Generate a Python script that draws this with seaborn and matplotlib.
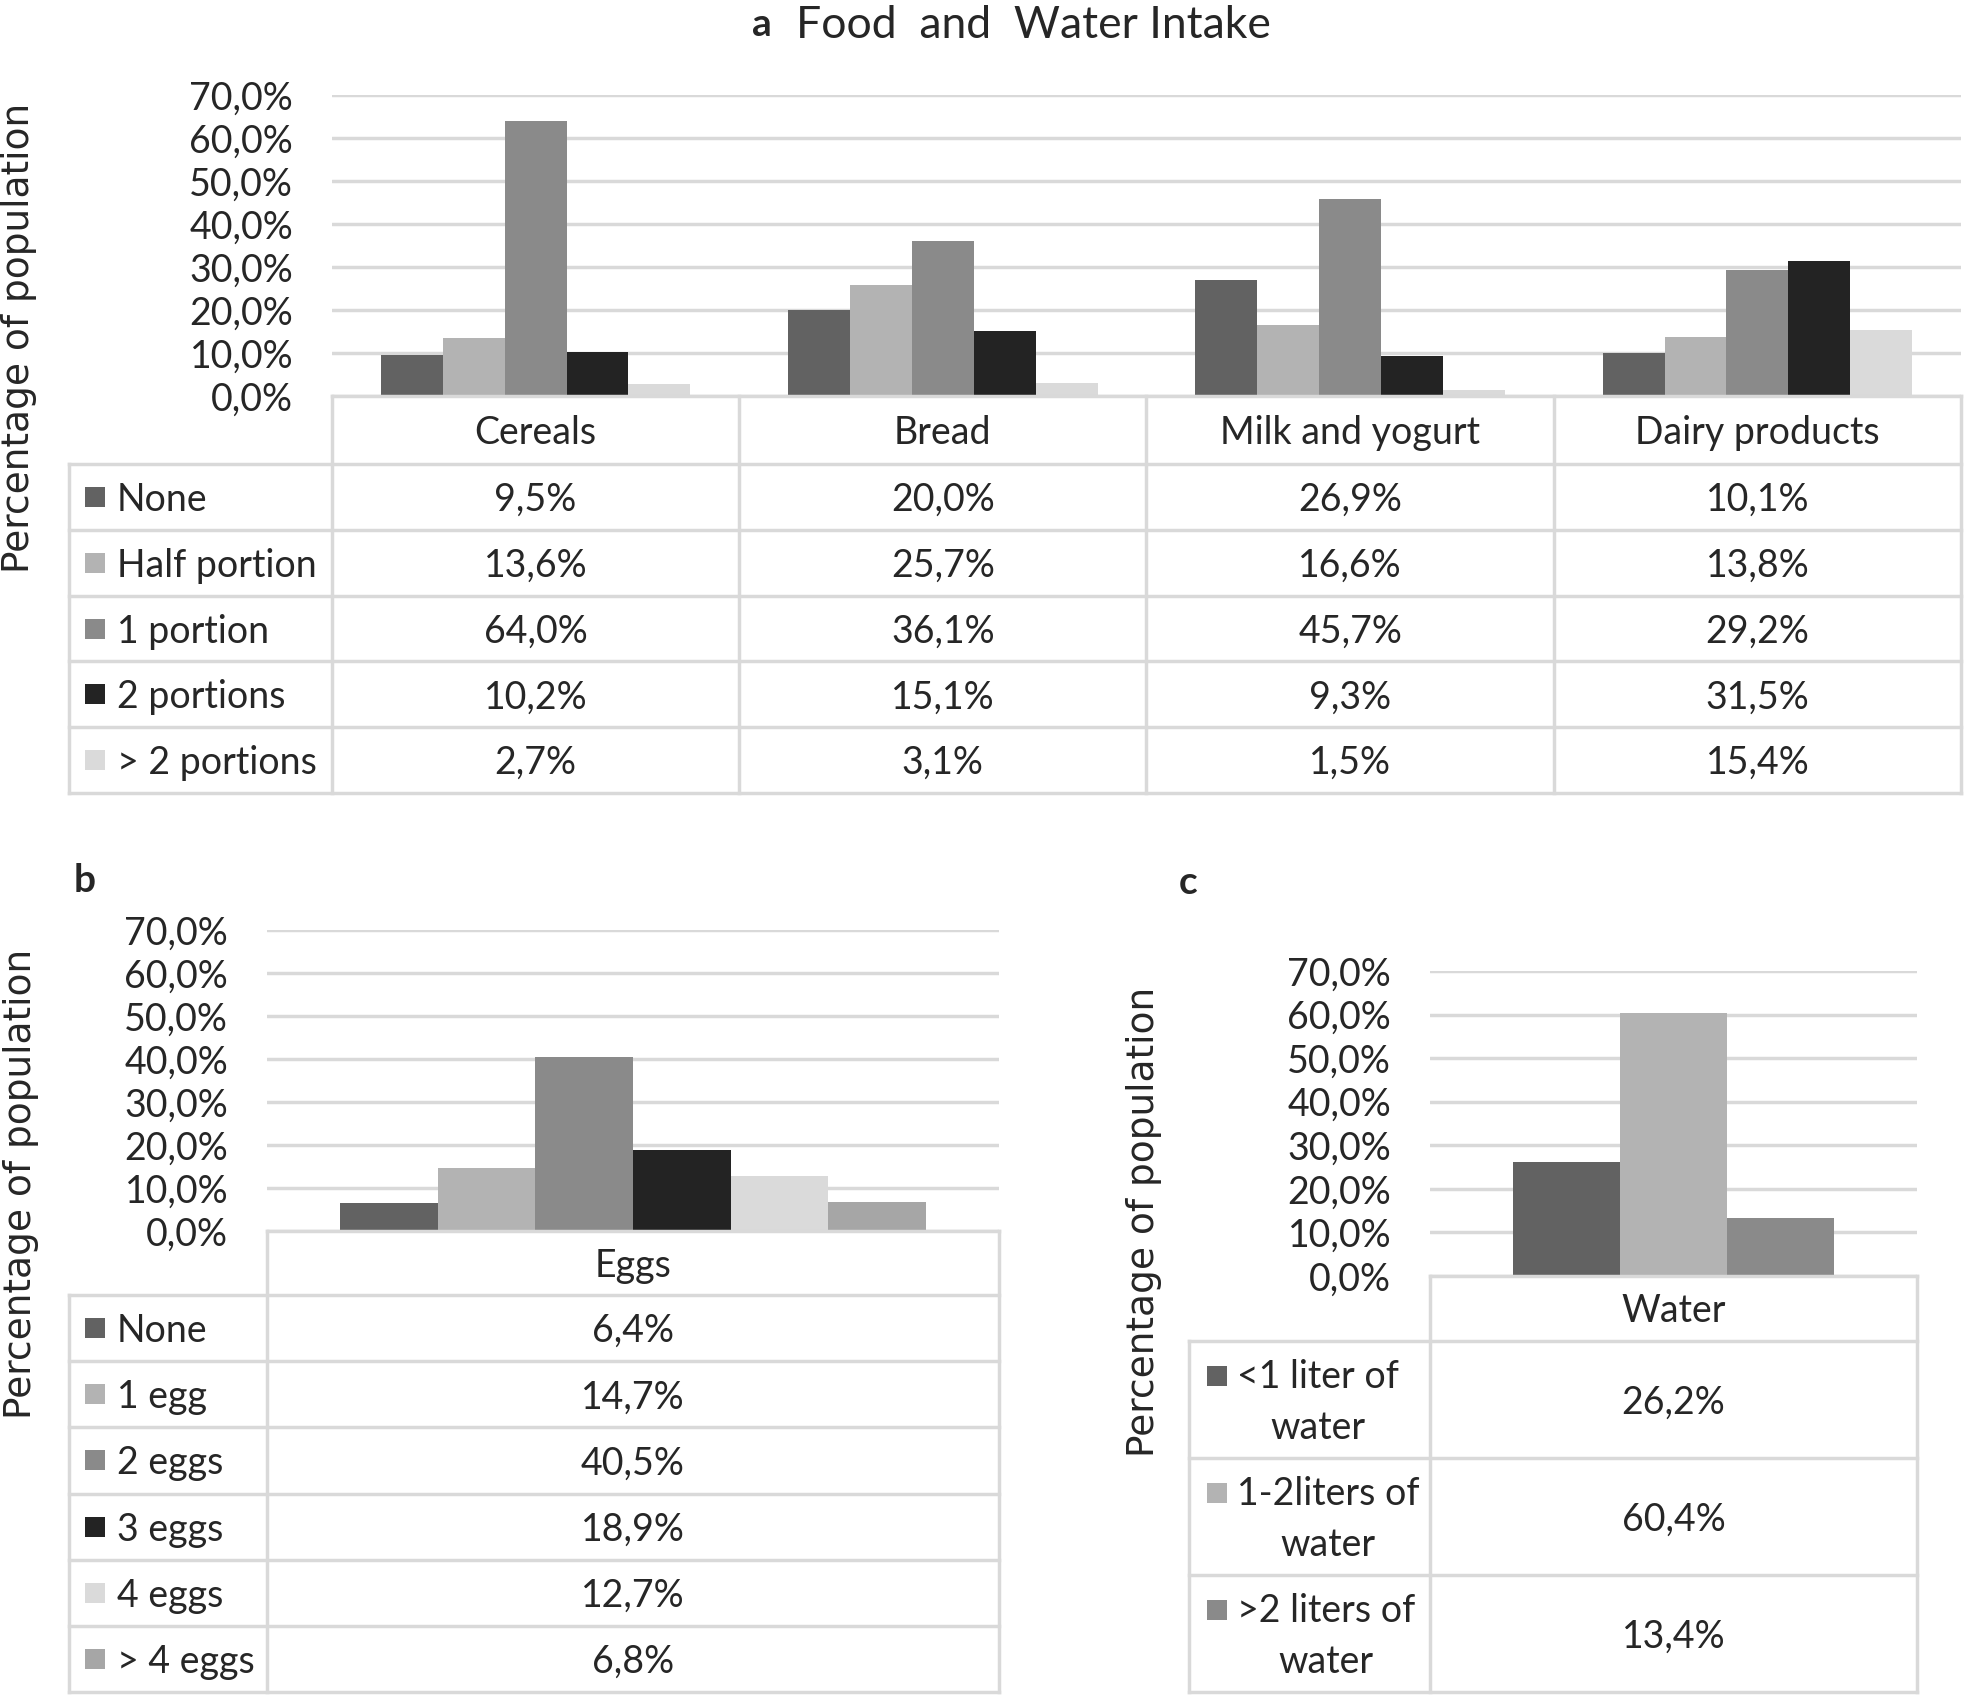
import matplotlib
matplotlib.use('Agg')
import matplotlib.pyplot as plt
from matplotlib.patches import Rectangle
import seaborn as sns
import pandas as pd
import numpy as np

# data
food_categories = ['Cereals', 'Bread', 'Milk and yogurt', 'Dairy products']
portion_levels = ['None', 'Half portion', '1 portion', '2 portions', '> 2 portions']
food_none = [9.5, 20.0, 26.9, 10.1]
food_half = [13.6, 25.7, 16.6, 13.8]
food_one = [64.0, 36.1, 45.7, 29.2]
food_two = [10.2, 15.1, 9.3, 31.5]
food_more = [2.7, 3.1, 1.5, 15.4]
portion_colors = ['#626262', '#b3b3b3', '#8a8a8a', '#232323', '#dadada']

egg_categories = ['Eggs']
egg_levels = ['None', '1 egg', '2 eggs', '3 eggs', '4 eggs', '> 4 eggs']
egg_values = [6.4, 14.7, 40.5, 18.9, 12.7, 6.8]
egg_colors = ['#626262', '#b3b3b3', '#8a8a8a', '#232323', '#dadada', '#a6a6a6']

water_categories = ['Water']
water_levels = ['<1 liter of\nwater', '1-2liters of\nwater', '>2 liters of\nwater']
water_values = [26.2, 60.4, 13.4]
water_colors = ['#626262', '#b3b3b3', '#8a8a8a']

y_ticks = [0, 10, 20, 30, 40, 50, 60, 70]

sns.set_style('white')
plt.rcParams['font.family'] = ['Lato', 'DejaVu Sans']

W, H = 1965, 1695
GRID = '#d9d9d9'
FS = 27


def pct(v):
    return f'{v:.1f}%'.replace('.', ',')


fig = plt.figure(figsize=(W / 100, H / 100), dpi=100)
ov = fig.add_axes([0, 0, 1, 1], zorder=5)
ov.set_xlim(0, W)
ov.set_ylim(H, 0)
ov.axis('off')
ov.patch.set_alpha(0)


def bar_panel(x0, x1, y_top, y_bot, categories, levels, values, colors, width):
    ax = fig.add_axes([x0 / W, 1 - y_bot / H, (x1 - x0) / W, (y_bot - y_top) / H])
    rows = []
    for lev, vals in zip(levels, values):
        for cat, v in zip(categories, vals):
            rows.append({'cat': cat, 'level': lev, 'value': v})
    df = pd.DataFrame(rows)
    sns.barplot(data=df, x='cat', y='value', hue='level', hue_order=levels,
                order=categories, palette=colors, width=width, saturation=1,
                legend=False, ax=ax, linewidth=0, errorbar=None)
    ax.set_xlim(-0.5, len(categories) - 0.5)
    ax.set_ylim(0, 70)
    ax.set_yticks(y_ticks)
    ax.set_yticklabels([pct(t) for t in y_ticks])
    ax.tick_params(axis='y', length=0, pad=28, labelsize=FS)
    ax.set_xticks([])
    ax.set_xlabel('')
    ax.set_ylabel('')
    ax.yaxis.grid(True, color=GRID, lw=2.5)
    ax.set_axisbelow(True)
    sns.despine(ax=ax, left=True, bottom=True, top=True, right=True)
    return ax


def table(x_left, x_div, x_right, y_top, y_head, y_bot, categories, levels,
          values, colors, swatch_dy=0, text_x=None):
    n = len(categories)
    edges = np.linspace(x_div, x_right, n + 1)
    row_edges = np.linspace(y_head, y_bot, len(levels) + 1)
    kw = dict(color=GRID, lw=2.5, solid_capstyle='projecting')
    ov.plot([x_div, x_right], [y_top, y_top], **kw)
    for e in edges:
        ov.plot([e, e], [y_top, y_bot], **kw)
    ov.plot([x_left, x_left], [y_head, y_bot], **kw)
    for r in row_edges:
        ov.plot([x_left, x_right], [r, r], **kw)
    for i, cat in enumerate(categories):
        ov.text((edges[i] + edges[i + 1]) / 2, (y_top + y_head) / 2 + 3, cat,
                ha='center', va='center', fontsize=FS)
    tx = text_x if text_x is not None else x_left + 48
    for j, (lev, vals, c) in enumerate(zip(levels, values, colors)):
        yc = (row_edges[j] + row_edges[j + 1]) / 2
        ov.add_patch(Rectangle((x_left + 16 if text_x is None else tx - 30, yc - swatch_dy - 10),
                               20, 20, color=c, lw=0))
        ov.text(tx, yc + 3, lev, ha='left', va='center', fontsize=FS,
                multialignment='center', linespacing=1.5)
        for i, v in enumerate(vals):
            ov.text((edges[i] + edges[i + 1]) / 2, yc + 3, pct(v),
                    ha='center', va='center', fontsize=FS)


# panel a
food_values = [food_none, food_half, food_one, food_two, food_more]
bar_panel(332, 1961, 95, 396, food_categories, portion_levels, food_values,
          portion_colors, 0.76)
table(69, 332, 1961, 396, 464, 793, food_categories, portion_levels,
      food_values, portion_colors)
ov.text(752, 25, 'a', fontsize=28, fontweight='bold', ha='left', va='center')
ov.text(796, 25, 'Food  and  Water Intake', fontsize=32, ha='left', va='center')
ov.text(19, 338, 'Percentage of population', rotation=90, ha='center',
        va='center', fontsize=27, family='DejaVu Sans')

# panel b
egg_vals = [[v] for v in egg_values]
bar_panel(267, 999, 930, 1231, egg_categories, egg_levels, egg_vals,
          egg_colors, 0.8)
table(69, 267, 999, 1231, 1295, 1692, egg_categories, egg_levels, egg_vals,
      egg_colors)
ov.text(85, 881, 'b', fontsize=28, fontweight='bold', ha='center', va='center')
ov.text(21, 1184, 'Percentage of population', rotation=90, ha='center',
        va='center', fontsize=27, family='DejaVu Sans')

# panel c
water_vals = [[v] for v in water_values]
bar_panel(1430, 1917, 971, 1276, water_categories, water_levels, water_vals,
          water_colors, 0.66)
table(1189, 1430, 1917, 1276, 1341, 1692, water_categories, water_levels,
      water_vals, water_colors, swatch_dy=24, text_x=1237)
ov.text(1188, 883, 'c', fontsize=28, fontweight='bold', ha='center', va='center')
ov.text(1144, 1222, 'Percentage of population', rotation=90, ha='center',
        va='center', fontsize=27, family='DejaVu Sans')

fig.savefig('out.png', dpi=100, facecolor='white')
